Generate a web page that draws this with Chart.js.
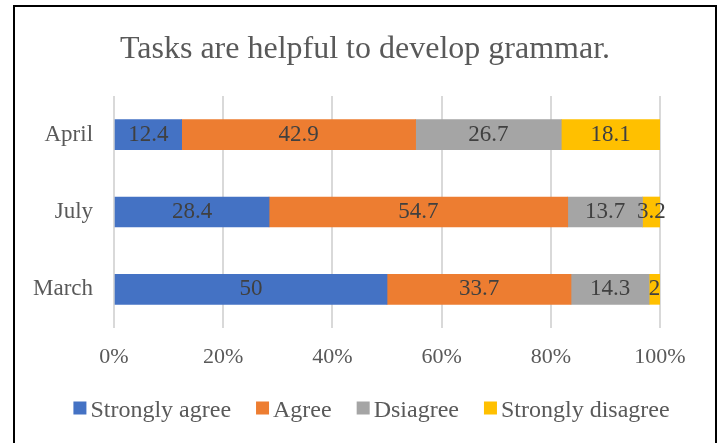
<!DOCTYPE html>
<html>
<head>
<meta charset="utf-8">
<script src="https://cdn.jsdelivr.net/npm/chart.js@4"></script>
<style>
  html, body { margin: 0; padding: 0; background: #fff; }
  #wrap { width: 723px; height: 443px; position: relative; }
</style>
</head>
<body>
<div id="wrap"><canvas id="grammarChart"></canvas></div>
<script>
// survey answers per month, in percent
const months = ['April', 'July', 'March'];
const seriesNames = ['Strongly agree', 'Agree', 'Dsiagree', 'Strongly disagree'];
const stronglyAgree = [12.4, 28.4, 50];
const agree = [42.9, 54.7, 33.7];
const disagree = [26.7, 13.7, 14.3];
const stronglyDisagree = [18.1, 3.2, 2];
const tickLabels = ['0%', '20%', '40%', '60%', '80%', '100%'];

const seriesValues = [stronglyAgree, agree, disagree, stronglyDisagree];
const seriesColors = ['#4472C4', '#ED7D31', '#A5A5A5', '#FFC000'];
const titleText = 'Tasks are helpful to develop grammar.';
const serif = '"Liberation Serif", "Times New Roman", serif';
const textGrey = '#595959';

// 100% stacked: each month is scaled to its own total
const totals = months.map((_, i) => seriesValues.reduce((s, arr) => s + arr[i], 0));

const datasets = seriesValues.map((values, k) => ({
    label: seriesNames[k],
    data: values.map((v, i) => v / totals[i] * 100),
    raw: values,
    backgroundColor: seriesColors[k],
    borderWidth: 0,
    barThickness: 30
}));

// value labels, title, legend and outer frame
const decorations = {
    id: 'decorations',
    afterDatasetsDraw(chart) {
        const ctx = chart.ctx;
        ctx.save();
        ctx.font = '23px ' + serif;
        ctx.fillStyle = '#404040';
        ctx.textAlign = 'center';
        ctx.textBaseline = 'middle';
        chart.data.datasets.forEach((ds, di) => {
            chart.getDatasetMeta(di).data.forEach((bar, i) => {
                const c = bar.getCenterPoint();
                ctx.fillText(String(ds.raw[i]), c.x, c.y);
            });
        });
        ctx.restore();
    },
    afterDraw(chart) {
        const ctx = chart.ctx;
        ctx.save();

        // frame
        ctx.strokeStyle = '#000';
        ctx.lineWidth = 2;
        ctx.beginPath();
        ctx.moveTo(14, 443);
        ctx.lineTo(14, 6);
        ctx.lineTo(716, 6);
        ctx.lineTo(716, 443);
        ctx.stroke();

        // title
        ctx.fillStyle = textGrey;
        ctx.font = '32px ' + serif;
        ctx.textAlign = 'center';
        ctx.textBaseline = 'alphabetic';
        ctx.fillText(titleText, 365, 58);

        // legend
        ctx.font = '24px ' + serif;
        ctx.textAlign = 'left';
        const box = 13, gap = 4, spacing = 25;
        const items = chart.data.datasets.map(ds => ({
            label: ds.label,
            color: ds.backgroundColor,
            w: box + gap + ctx.measureText(ds.label).width
        }));
        const total = items.reduce((s, it) => s + it.w, 0) + spacing * (items.length - 1);
        let x = 371.5 - total / 2;
        items.forEach(it => {
            ctx.fillStyle = it.color;
            ctx.fillRect(x, 401.5, box, box);
            ctx.fillStyle = textGrey;
            ctx.fillText(it.label, x + box + gap, 417);
            x += it.w + spacing;
        });

        ctx.restore();
    }
};

new Chart(document.getElementById('grammarChart'), {
    type: 'bar',
    data: { labels: months, datasets: datasets },
    options: {
        indexAxis: 'y',
        responsive: true,
        maintainAspectRatio: false,
        animation: false,
        layout: { padding: { top: 96, left: 12, right: 63, bottom: 0 } },
        plugins: {
            legend: { display: false },
            title: { display: false },
            tooltip: { enabled: false }
        },
        scales: {
            x: {
                stacked: true,
                min: 0,
                max: 100,
                border: { display: false },
                grid: { color: '#D9D9D9', lineWidth: 2, drawTicks: false },
                ticks: {
                    stepSize: 20,
                    padding: 16,
                    color: textGrey,
                    font: { family: serif, size: 22 },
                    callback: (v, i) => tickLabels[i]
                },
                // axis band plus the room left for the legend underneath
                afterFit: (scale) => { scale.height = 115; }
            },
            y: {
                stacked: true,
                border: { display: false },
                grid: { display: false, drawTicks: false },
                ticks: {
                    padding: 21,
                    color: textGrey,
                    font: { family: serif, size: 23 }
                }
            }
        }
    },
    plugins: [decorations]
});
</script>
</body>
</html>
